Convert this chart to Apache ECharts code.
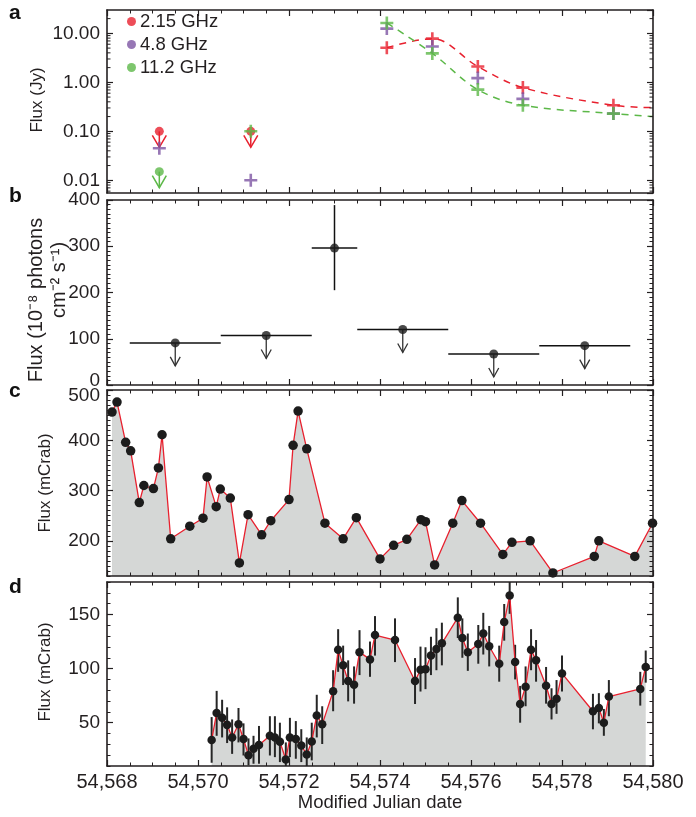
<!DOCTYPE html>
<html><head><meta charset="utf-8">
<script src="https://cdn.jsdelivr.net/npm/echarts@6/dist/echarts.min.js"></script>
<style>html,body{margin:0;padding:0;background:#fff}#c{width:696px;height:817px}</style>
</head><body><div id="c"></div><script>
// ---------- DATA ----------
// Panel a: radio flux (Jy)
const radio215 = [[54574.15,5.1],[54575.15,7.8],[54576.15,2.1],[54577.14,0.78],[54579.13,0.34]];
const radio215UL = [[54569.15,0.1],[54571.16,0.1]];
const radio48 = [[54569.15,0.045],[54571.16,0.01],[54574.15,12.5],[54575.15,5.4],[54576.15,1.22],[54577.14,0.46],[54579.13,0.23]];
const radio112 = [[54571.16,0.1],[54574.15,16.3],[54575.15,3.9],[54576.15,0.71],[54577.14,0.34],[54579.13,0.23]];
const radio112UL = [[54569.15,0.015]];
const model215 = [[54574.15,5.1],[54575.15,7.8],[54576.15,2.1],[54577.14,0.78],[54579.13,0.34],[54580,0.305]];
const model112 = [[54574.15,16.3],[54575.15,3.9],[54576.15,0.71],[54577.14,0.34],[54579.13,0.23],[54580,0.20]];
const logMinorTicks = [0.006,0.007,0.008,0.009,0.02,0.03,0.04,0.05,0.06,0.07,0.08,0.09,0.2,0.3,0.4,0.5,0.6,0.7,0.8,0.9,2,3,4,5,6,7,8,9,20];

// Panel b: gamma-ray flux (1e-8 photons cm-2 s-1)
const fermiMJD  = [54569.5, 54571.5, 54573.0, 54574.5, 54576.5, 54578.5];
const fermiFlux = [91, 107, 296, 120, 67, 85];
const fermiBinLo = [54568.5, 54570.5, 54572.5, 54573.5, 54575.5, 54577.5];
const fermiBinHi = [54570.5, 54572.5, 54573.5, 54575.5, 54577.5, 54579.5];
const fermiErrMinus = [0, 0, 91, 0, 0, 0];
const fermiErrPlus  = [0, 0, 93, 0, 0, 0];
const fermiUpperLimit = [1, 1, 0, 1, 1, 1];

// Panel c: flux (mCrab)
const asmMJD = [54568.11,54568.22,54568.41,54568.52,54568.71,54568.81,54569.02,54569.13,54569.21,54569.40,54569.82,54570.11,54570.20,54570.40,54570.49,54570.71,54570.91,54571.10,54571.40,54571.60,54572.00,54572.09,54572.20,54572.39,54572.79,54573.19,54573.48,54574.00,54574.30,54574.59,54574.90,54575.00,54575.20,54575.60,54575.80,54576.21,54576.70,54576.90,54577.30,54577.80,54578.71,54578.81,54579.60,54579.99];
const asmFlux = [456,476,396,379,276,310,304,345,411,204,229,245,327,268,303,285,156,252,212,240,282,390,458,383,235,204,246,164,191,203,242,238,152,235,280,235,173,197,200,136,169,200,169,235];

// Panel d: flux (mCrab) with errors
const batMJD  = [54570.30,54570.41,54570.53,54570.64,54570.75,54570.89,54571.00,54571.11,54571.22,54571.34,54571.58,54571.69,54571.80,54571.93,54572.02,54572.15,54572.27,54572.39,54572.50,54572.61,54572.73,54572.97,54573.08,54573.19,54573.30,54573.43,54573.55,54573.78,54573.89,54574.33,54574.77,54574.89,54575.00,54575.12,54575.24,54575.36,54575.71,54575.81,54575.93,54576.16,54576.27,54576.40,54576.62,54576.73,54576.85,54576.97,54577.08,54577.20,54577.32,54577.43,54577.65,54577.77,54577.88,54578.00,54578.68,54578.81,54578.92,54579.03,54579.72,54579.84];
const batFlux = [34,59,54.5,48,36.4,48.5,35,20,26,29.4,38,36.4,32.4,16,36.4,35,29,20.6,32.7,56.7,48.5,79,117.3,103,88.5,85,115.2,108.5,131,126.4,88.5,99,99.5,112,118.2,123.3,147,128.2,115,122.7,132.4,120.6,104.5,143,167.6,106,67.3,83.3,117.3,107.6,84.2,67.3,72.1,95.5,60.6,63.6,50,74.2,81.2,101.5];
const batLow  = [13,37.9,36.4,31.2,21.2,31.8,19.7,10.6,12.1,12.1,19.7,18.2,13.6,10,18.2,16.7,13.6,10,15.2,36.4,30.3,60.6,97,84.8,69.7,67.6,94,92.4,112,106,67.3,78.8,81,94,98.5,103,128.2,110,97.9,104.5,113,102,87.9,125.8,150.6,90,50,65.2,98.5,87.9,67.6,53,58.2,78.8,43.9,49.4,37.9,56,65.8,87];
const batHigh = [55.2,79.4,71.2,64.2,53,63.6,49.4,35.5,37.9,47,56,56,50,31.8,54.5,51.5,44,36.4,50,75.8,65.2,98.5,136.4,121.2,107.6,102,135.5,125,148.5,146.4,109.7,120.3,119.7,129.4,137.3,142.4,165.8,146.4,132.4,140.3,151.5,139.4,121.2,159.7,181,122,84,102,136.4,126.4,101.5,81.8,89.4,112,76.7,77.3,62.7,89.4,97,116.7];

// Axis ranges and tick labels
const xMin = 54568, xMax = 54580, xStep = 2;
const aRange = [0.0055, 30];
const bRange = [0, 400], bStep = 100;
const cRange = [130, 500], cTicks = [200, 300, 400, 500];
const dRange = [10, 180], dTicks = [50, 100, 150];

// ---------- STYLE ----------
const FONT = '"Liberation Sans", Arial, Helvetica, sans-serif';
const AX = '#231f20';
const RED = '#e8202e', PURPLE = '#7d55a3', GREEN = '#5cb848', FILL = '#d5d7d6', DOT = '#1c1c1c';
const PLUS = 'path://M4,0H6V4H10V6H6V10H4V6H0V4H4Z';
const LBL = 19;
const grids = [
  {left:107, top:10,  width:546, height:183},
  {left:107, top:200, width:546, height:185},
  {left:107, top:390, width:546, height:186},
  {left:107, top:582, width:546, height:184}
];

function xAx(g, pos, labels) {
  return {type:'value', gridIndex:g, position:pos, min:xMin, max:xMax, interval:xStep, z:5,
    axisLine:{show:true, onZero:false, lineStyle:{color:AX, width:1.6}},
    axisTick:{show:true, inside:true, length:6, lineStyle:{color:AX, width:1.2}},
    minorTick:{show:true, splitNumber:4, length:3.5, lineStyle:{color:AX, width:1}},
    splitLine:{show:false}, minorSplitLine:{show:false},
    axisLabel:{show:labels, margin:6, fontSize:20, color:AX, fontFamily:FONT,
      formatter: v => { const s = String(v); return s.slice(0, s.length-3) + ',' + s.slice(-3); }}
  };
}
function yBase(g, pos, extra) {
  return Object.assign({gridIndex:g, position:pos, z:5,
    axisLine:{show:true, onZero:false, lineStyle:{color:AX, width:1.6}},
    axisTick:{show:true, inside:true, length:6, lineStyle:{color:AX, width:1.2}},
    splitLine:{show:false}, minorSplitLine:{show:false},
    axisLabel:{show:pos==='left', margin:7, fontSize:LBL, color:AX, fontFamily:FONT}
  }, extra);
}
const richShift = {
  up:{padding:[0,0,9,0], fontSize:LBL, color:AX, fontFamily:FONT},
  down:{padding:[12,0,0,0], fontSize:LBL, color:AX, fontFamily:FONT}
};
const xAxes = [];
for (let g = 0; g < 4; g++) { xAxes.push(xAx(g, 'bottom', g === 3)); xAxes.push(xAx(g, 'top', false)); }

const yAxes = [];
for (const pos of ['left', 'right']) {
  const a = yBase(0, pos, {type:'log', logBase:10, min:aRange[0], max:aRange[1]});
  a.axisLabel.formatter = v => v.toFixed(2); a.axisLabel.showMinLabel = false; a.axisLabel.showMaxLabel = false;
  yAxes.push(a);
}
for (const pos of ['left', 'right']) {
  const b = yBase(1, pos, {type:'value', min:bRange[0], max:bRange[1], interval:bStep,
    minorTick:{show:true, splitNumber:10, length:3.5, lineStyle:{color:AX, width:1}}});
  b.axisLabel.formatter = v => v === bRange[0] ? '{up|' + v + '}' : String(v);
  b.axisLabel.rich = richShift;
  yAxes.push(b);
}
for (const pos of ['left', 'right']) {
  const c = yBase(2, pos, {type:'value', min:cRange[0], max:cRange[1]});
  c.axisTick.customValues = cTicks; c.axisLabel.customValues = cTicks;
  c.axisLabel.formatter = v => v === cRange[1] ? '{down|' + v + '}' : String(v);
  c.axisLabel.rich = richShift;
  yAxes.push(c);
}
for (const pos of ['left', 'right']) {
  const d = yBase(3, pos, {type:'value', min:dRange[0], max:dRange[1]});
  d.axisTick.customValues = dTicks; d.axisLabel.customValues = dTicks;
  yAxes.push(d);
}
// minor tick axes for c and d (indices 8..11)
function minorAx(g, pos, r) {
  return {type:'value', gridIndex:g, position:pos, min:r[0], max:r[1], interval:10, z:5,
    axisLine:{show:false}, axisLabel:{show:false}, splitLine:{show:false},
    axisTick:{show:true, inside:true, length:3.5, lineStyle:{color:AX, width:1}}};
}
yAxes.push(minorAx(2,'left',cRange), minorAx(2,'right',cRange), minorAx(3,'left',dRange), minorAx(3,'right',dRange));

// ---------- RENDERERS ----------
function ulRenderer(color) {
  return function (params, api) {
    const p = api.coord([api.value(0), api.value(1)]);
    const L = 16, hw = 7, hh = 12;
    return {type:'group', children:[
      {type:'line', shape:{x1:p[0], y1:p[1], x2:p[0], y2:p[1]+L}, style:{stroke:color, lineWidth:1.5}},
      {type:'polyline', shape:{points:[[p[0]-hw, p[1]+L-hh],[p[0], p[1]+L],[p[0]+hw, p[1]+L-hh]]}, style:{stroke:color, fill:null, lineWidth:1.5}}
    ]};
  };
}
function logMinorRenderer(params, api) {
  const p = api.coord([xMin, api.value(1)]);
  const cs = params.coordSys;
  return {type:'group', children:[
    {type:'line', shape:{x1:cs.x, y1:p[1], x2:cs.x+3.5, y2:p[1]}, style:{stroke:AX, lineWidth:1}},
    {type:'line', shape:{x1:cs.x+cs.width, y1:p[1], x2:cs.x+cs.width-3.5, y2:p[1]}, style:{stroke:AX, lineWidth:1}}
  ]};
}
function fermiRenderer(params, api) {
  const x = api.value(0), y = api.value(1);
  const c = api.coord([x, y]);
  const pL = api.coord([api.value(2), y]), pR = api.coord([api.value(3), y]);
  const ch = [{type:'line', shape:{x1:pL[0], y1:pL[1], x2:pR[0], y2:pR[1]}, style:{stroke:'#111', lineWidth:1.5}}];
  if (api.value(6)) {
    const L = 23, hw = 5, hh = 9;
    ch.push({type:'line', shape:{x1:c[0], y1:c[1], x2:c[0], y2:c[1]+L}, style:{stroke:'#333', lineWidth:1.3}});
    ch.push({type:'polyline', shape:{points:[[c[0]-hw, c[1]+L-hh],[c[0], c[1]+L],[c[0]+hw, c[1]+L-hh]]}, style:{stroke:'#333', fill:null, lineWidth:1.3}});
  } else {
    const lo = api.coord([x, api.value(4)]), hi = api.coord([x, api.value(5)]);
    ch.push({type:'line', shape:{x1:lo[0], y1:lo[1], x2:hi[0], y2:hi[1]}, style:{stroke:'#111', lineWidth:1.5}});
  }
  return {type:'group', children:ch};
}
function errRenderer(params, api) {
  const x = api.value(0);
  const lo = api.coord([x, api.value(1)]), hi = api.coord([x, api.value(2)]);
  return {type:'line', shape:{x1:lo[0], y1:lo[1], x2:hi[0], y2:hi[1]}, style:{stroke:'#262626', lineWidth:2}};
}

// ---------- SERIES ----------
const fermiData = fermiMJD.map((x, i) => [x, fermiFlux[i], fermiBinLo[i], fermiBinHi[i], fermiFlux[i]-fermiErrMinus[i], fermiFlux[i]+fermiErrPlus[i], fermiUpperLimit[i]]);
const asmData = asmMJD.map((x, i) => [x, asmFlux[i]]);
const batData = batMJD.map((x, i) => [x, batFlux[i]]);
const batErr = batMJD.map((x, i) => [x, batLow[i], batHigh[i]]);

const series = [
  // panel a
  {type:'custom', xAxisIndex:0, yAxisIndex:0, renderItem:logMinorRenderer, data:logMinorTicks.map(v => [xMin, v]), encode:{x:0, y:1}, silent:true, z:6},
  {type:'line', xAxisIndex:0, yAxisIndex:0, data:model215, smooth:0.35, showSymbol:false, lineStyle:{color:RED, width:1.5, type:[7,6]}, z:1},
  {type:'line', xAxisIndex:0, yAxisIndex:0, data:model112, smooth:0.35, showSymbol:false, lineStyle:{color:GREEN, width:1.5, type:[7,6]}, z:1},
  {type:'custom', xAxisIndex:0, yAxisIndex:0, renderItem:ulRenderer(RED), data:radio215UL, encode:{x:0, y:1}, z:2},
  {type:'custom', xAxisIndex:0, yAxisIndex:0, renderItem:ulRenderer(GREEN), data:radio112UL, encode:{x:0, y:1}, z:2},
  {name:'2.15 GHz', type:'scatter', xAxisIndex:0, yAxisIndex:0, data:radio215UL, symbol:'circle', symbolSize:9, itemStyle:{color:RED}, z:3},
  {name:'11.2 GHz', type:'scatter', xAxisIndex:0, yAxisIndex:0, data:radio112UL, symbol:'circle', symbolSize:9, itemStyle:{color:GREEN}, z:3},
  {name:'2.15 GHz', type:'scatter', xAxisIndex:0, yAxisIndex:0, data:radio215, symbol:PLUS, symbolSize:13, itemStyle:{color:RED}, z:4},
  {name:'4.8 GHz', type:'scatter', xAxisIndex:0, yAxisIndex:0, data:radio48, symbol:PLUS, symbolSize:13, itemStyle:{color:PURPLE}, z:4},
  {name:'11.2 GHz', type:'scatter', xAxisIndex:0, yAxisIndex:0, data:radio112, symbol:PLUS, symbolSize:13, itemStyle:{color:GREEN}, z:4},
  // panel b
  {type:'custom', xAxisIndex:2, yAxisIndex:2, renderItem:fermiRenderer, data:fermiData, encode:{x:0, y:1}, z:2},
  {type:'scatter', xAxisIndex:2, yAxisIndex:2, data:fermiMJD.map((x, i) => [x, fermiFlux[i]]), symbol:'circle', symbolSize:9, itemStyle:{color:DOT}, z:3},
  // panel c
  {type:'line', xAxisIndex:4, yAxisIndex:4, data:asmData, symbol:'circle', symbolSize:9.5, showSymbol:true,
    itemStyle:{color:DOT}, lineStyle:{color:RED, width:1.3}, areaStyle:{color:FILL, opacity:1, origin:'start'}, z:2},
  // panel d
  {type:'line', xAxisIndex:6, yAxisIndex:6, data:batData, showSymbol:false, lineStyle:{width:0, opacity:0}, areaStyle:{color:FILL, opacity:1, origin:'start'}, z:1},
  {type:'custom', xAxisIndex:6, yAxisIndex:6, renderItem:errRenderer, data:batErr, encode:{x:0, y:[1,2]}, clip:true, z:2},
  {type:'line', xAxisIndex:6, yAxisIndex:6, data:batData, symbol:'circle', symbolSize:8.5, showSymbol:true,
    itemStyle:{color:DOT}, lineStyle:{color:RED, width:1.3}, z:3}
];

function vText(text, x, y, size) {
  return {type:'text', x:x, y:y, rotation:Math.PI/2,
    style:{text:text, fontSize:size, fontFamily:FONT, fill:AX, textAlign:'center', textVerticalAlign:'middle'}};
}
function letter(t, x, y) {
  return {type:'text', x:x, y:y, style:{text:t, fontSize:21, fontWeight:'bold', fontFamily:FONT, fill:'#111', textAlign:'left', textVerticalAlign:'middle'}};
}

const option = {
  animation:false,
  backgroundColor:'#fff',
  textStyle:{fontFamily:FONT},
  grid:grids,
  xAxis:xAxes,
  yAxis:yAxes,
  legend:{data:['2.15 GHz','4.8 GHz','11.2 GHz'], orient:'vertical', left:127, top:12, itemGap:4, padding:0,
    icon:'circle', itemWidth:9, itemHeight:9, textStyle:{fontSize:18.5, color:AX, fontFamily:FONT, padding:[0,0,0,-1]}, selectedMode:false},
  series:series,
  graphic:[
    letter('a', 9, 13), letter('b', 9, 196), letter('c', 9, 391), letter('d', 9, 587),
    vText('Flux (Jy)', 37, 100, 17),
    vText('Flux (10\u207B\u2078 photons', 36, 300, 20),
    vText('cm\u207B\u00B2 s\u207B\u00B9)', 59, 280, 20),
    vText('Flux (mCrab)', 45, 483, 17),
    vText('Flux (mCrab)', 45, 672, 17),
    {type:'text', x:380, y:803, style:{text:'Modified Julian date', fontSize:18.5, fontFamily:FONT, fill:AX, textAlign:'center', textVerticalAlign:'middle'}}
  ]
};
const chart = echarts.init(document.getElementById('c'), null, {renderer:'canvas'});
chart.setOption(option);
</script></body></html>
